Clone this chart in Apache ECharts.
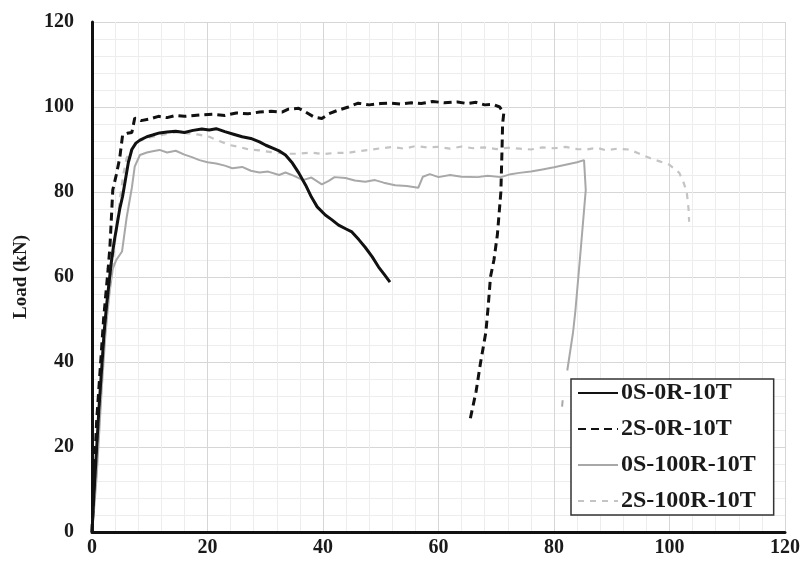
<!DOCTYPE html>
<html>
<head>
<meta charset="utf-8">
<script src="https://cdn.jsdelivr.net/npm/echarts@6/dist/echarts.min.js"></script>
<style>html,body{margin:0;padding:0;background:#fff}#c{width:803px;height:561px}</style>
</head>
<body>
<div id="c"></div>
<script>
const seriesNames = ["0S-0R-10T", "2S-0R-10T", "0S-100R-10T", "2S-100R-10T"];
const xTicks = [0, 20, 40, 60, 80, 100, 120];
const yTicks = [0, 20, 40, 60, 80, 100, 120];

const s0S0R = [[0,0],[0.3,8],[0.6,15],[0.9,22],[1.2,29],[1.5,35],[1.8,41],[2.1,47],[2.5,53],[2.9,58],[3.3,63],[3.8,68],[4.3,72],[4.8,76],[5.3,79],[5.8,83],[6.3,87],[6.9,90],[7.6,91.5],[8.3,92.2],[9.5,93.0],[10.5,93.4],[11.7,93.9],[13,94.1],[14.5,94.3],[16,94.0],[17.5,94.5],[19,94.8],[20.3,94.6],[21.5,94.9],[23,94.2],[24.5,93.6],[26,93.0],[27.5,92.6],[29,91.8],[30.1,91.0],[31.5,90.2],[32.5,89.6],[33.5,88.7],[34.7,86.8],[35.8,84.5],[37,81.6],[38,78.8],[39,76.5],[40.4,74.6],[41.5,73.5],[42.7,72.2],[44,71.3],[45,70.6],[46.2,68.8],[47.3,67],[48.5,64.8],[49.6,62.4],[50.6,60.6],[51.6,58.8]];

const s2S0R = [[0,0],[0.2,7],[0.4,14],[0.6,20],[0.8,26],[1.1,32],[1.4,38],[1.7,44],[2.0,50],[2.4,56],[2.8,62],[3.1,67],[3.4,75],[3.6,80.5],[4.2,84],[4.8,88],[5.3,93.4],[6.1,93.8],[6.9,94],[7.4,97.4],[8.5,96.8],[10,97.2],[11.5,97.8],[13,97.5],[14.5,98],[16,97.8],[18.6,98.1],[21,98.3],[23,98.0],[25,98.6],[27,98.4],[29,98.8],[31,99.0],[32.9,98.8],[34,99.5],[35.8,99.7],[37,98.8],[38.5,97.6],[39.8,97.3],[41,98.4],[42.5,99.2],[44.4,100],[46.1,100.9],[48,100.5],[50,100.8],[51.8,100.9],[53.5,100.7],[55.3,101],[57,100.8],[59,101.3],[61,101.0],[63.3,101.2],[65,100.8],[66.5,101.1],[68,100.5],[69.5,100.6],[70.6,100],[71.3,98.5],[71.1,96],[71.0,90],[70.8,80],[70.2,70],[69.6,64],[69.0,60],[68.6,53],[68.2,47],[67.3,40],[66.5,33],[65.4,26]];

const s0S100R = [[0,0],[0.4,6],[0.8,13],[1.1,20],[1.4,27],[1.7,34],[2.0,40],[2.3,46],[2.7,52],[3.1,57],[3.6,62],[4.2,64],[5.2,66],[6,74],[6.9,81],[7.4,86],[8.3,88.7],[9.5,89.3],[10.5,89.6],[11.7,89.9],[13,89.3],[14.5,89.7],[16,88.8],[17.3,88.2],[18.6,87.5],[20,87.0],[21.5,86.7],[23,86.2],[24.3,85.6],[26,85.9],[27.5,85.0],[29,84.6],[30.5,84.8],[32.4,84.0],[33.5,84.6],[35,83.8],[36.5,82.8],[38,83.4],[39.8,81.8],[41,82.6],[42,83.5],[43.9,83.3],[45.5,82.7],[47.3,82.4],[49,82.8],[50.5,82.2],[52.5,81.6],[54.5,81.4],[56.5,81.0],[57.3,83.6],[58.5,84.2],[60,83.5],[62,84.0],[64,83.6],[66.8,83.5],[68.5,83.8],[70.8,83.5],[72.5,84.2],[74,84.5],[76,84.8],[78,85.3],[80,85.8],[82,86.4],[84,87],[85.2,87.5],[85.5,80.5],[84.6,66],[83.7,52],[83.3,47],[82.3,38],null,[81.5,31],[81.4,29.5]];

const s2S100R = [[0,0],[0.3,6],[0.6,12],[0.9,19],[1.2,26],[1.5,32],[1.8,38],[2.1,44],[2.5,50],[2.9,55],[3.3,60],[3.8,66],[4.3,72],[4.8,78],[5.4,84],[6,88],[6.8,90],[7.7,91.8],[9,92.4],[10.5,93],[12,93.4],[14.6,94.1],[16.5,93.8],[18.5,93.5],[20.3,93],[22,92],[24,91],[25.5,90.6],[27.2,90],[29,89.8],[31,89.4],[32.4,89.2],[34,89.0],[35.8,89],[38,89.3],[40,88.9],[42,89.2],[44.4,89.2],[46,89.6],[48,89.9],[50.1,90.3],[52,90.6],[54,90.2],[56,90.8],[58,90.5],[60,90.6],[62,90.2],[64,90.7],[66,90.3],[68,90.5],[70,90.1],[72,90.4],[74,90.2],[76,90.0],[78,90.5],[80,90.3],[82,90.6],[84,90.1],[85.7,90],[87.5,90.4],[89,89.8],[91,90.2],[93,90.0],[94.8,89],[96.6,88],[98.3,87.2],[100,86.4],[101.7,84.5],[102.5,82],[103,79.8],[103.3,76],[103.4,73]];

const FONT = '"Liberation Serif", "Times New Roman", serif';
const chart = echarts.init(document.getElementById('c'), null, {renderer: 'canvas'});
const labelStyle = {fontFamily: FONT, fontWeight: 'bold', fontSize: 20, color: '#1a1a1a'};

chart.setOption({
  animation: false,
  backgroundColor: '#ffffff',
  grid: {left: 92, right: 14, top: 22, bottom: 29, containLabel: false},
  xAxis: {
    type: 'value', min: xTicks[0], max: xTicks[xTicks.length - 1], interval: 20,
    axisLine: {show: true, onZero: false, lineStyle: {color: '#111', width: 3}},
    axisTick: {show: false},
    axisLabel: Object.assign({margin: 6}, labelStyle),
    splitLine: {show: true, lineStyle: {color: '#d6d6d6', width: 1}},
    minorTick: {show: false, splitNumber: 5},
    minorSplitLine: {show: true, lineStyle: {color: '#ededed', width: 1}}
  },
  yAxis: {
    type: 'value', min: yTicks[0], max: yTicks[yTicks.length - 1], interval: 20,
    name: 'Load (kN)', nameLocation: 'middle', nameGap: 61,
    nameTextStyle: {fontFamily: FONT, fontWeight: 'bold', fontSize: 19, color: '#1a1a1a'},
    axisLine: {show: true, onZero: false, lineStyle: {color: '#111', width: 3}},
    axisTick: {show: false},
    axisLabel: Object.assign({margin: 18}, labelStyle),
    splitLine: {show: true, lineStyle: {color: '#d6d6d6', width: 1}},
    minorTick: {show: false, splitNumber: 5},
    minorSplitLine: {show: true, lineStyle: {color: '#ededed', width: 1}}
  },
  legend: {
    orient: 'vertical', left: 571, top: 379,
    backgroundColor: '#fff', borderColor: '#333', borderWidth: 1.5,
    padding: [2, 18, 2, 6],
    itemWidth: 40, itemHeight: 14, itemGap: 12,
    itemStyle: {opacity: 0},
    textStyle: {fontFamily: FONT, fontWeight: 'bold', fontSize: 24, color: '#1a1a1a', lineHeight: 22, padding: [0, 0, 0, -2]},
    data: seriesNames
  },
  series: [
    {name: seriesNames[2], type: 'line', data: s0S100R, symbol: 'none', connectNulls: false, z: 2,
      lineStyle: {color: '#a8a8a8', width: 2}, itemStyle: {color: '#a8a8a8'}},
    {name: seriesNames[3], type: 'line', data: s2S100R, symbol: 'none', z: 2,
      lineStyle: {color: '#c4c4c4', width: 2.2, type: [6, 6]}, itemStyle: {color: '#c4c4c4'}},
    {name: seriesNames[0], type: 'line', data: s0S0R, symbol: 'none', z: 3,
      lineStyle: {color: '#111', width: 3}, itemStyle: {color: '#111'}},
    {name: seriesNames[1], type: 'line', data: s2S0R, symbol: 'none', z: 3,
      lineStyle: {color: '#111', width: 3, type: [8, 5]}, itemStyle: {color: '#111'}}
  ]
});
</script>
</body>
</html>
